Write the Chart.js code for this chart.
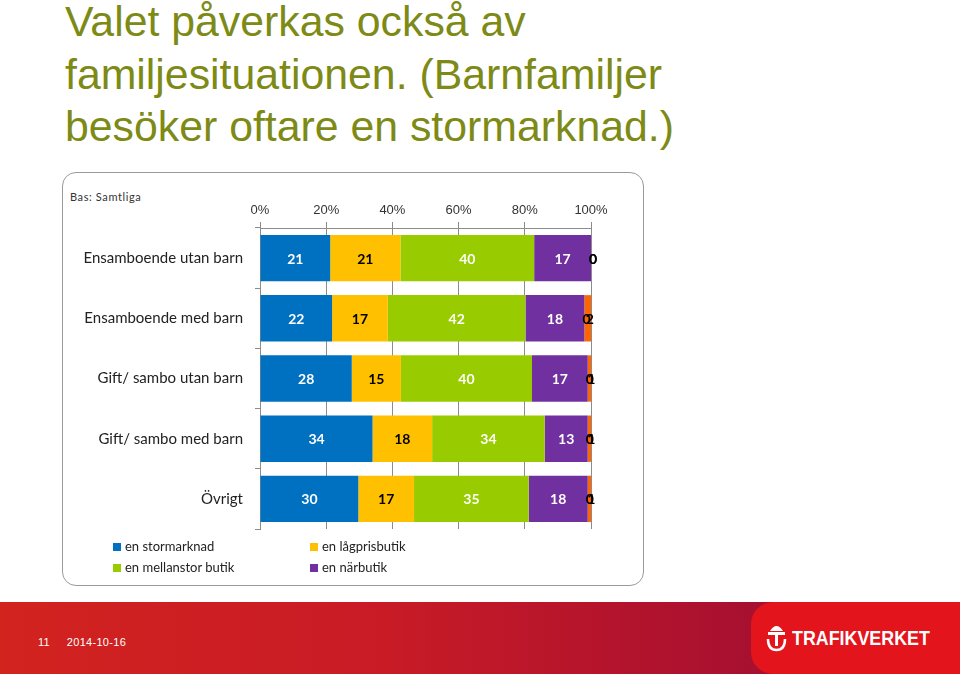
<!DOCTYPE html>
<html lang="sv">
  <head>
    <meta charset="UTF-8" />
    <title>Valet påverkas också av familjesituationen</title>
    <script src="https://cdn.jsdelivr.net/npm/chart.js"></script>
    <style>
        body {
            margin: 0;
            width: 960px;
            height: 674px;
            background: #fff;
            position: relative;
            overflow: hidden;
            font-family: "Liberation Sans", Arial, sans-serif;
        }
        .title {
            position: absolute;
            left: 65px;
            top: -5px;
            font-size: 42.8px;
            line-height: 52.5px;
            color: #7d8a16;
        }
        .chart-box {
            position: absolute;
            left: 62px;
            top: 172px;
            width: 582px;
            height: 414px;
            border: 1px solid #9a9a9a;
            border-radius: 14px;
            box-sizing: border-box;
        }
        .bas {
            position: absolute;
            left: 70px;
            top: 190px;
            font-family: Lato, sans-serif;
            font-size: 11px;
            letter-spacing: 0.6px;
            color: #333;
        }
        #chartWrap {
            position: absolute;
            left: 62px;
            top: 180px;
            width: 583px;
            height: 370px;
        }
        .legend {
            position: absolute;
            left: 113px;
            top: 538px;
            display: grid;
            grid-template-columns: 197px 150px;
            row-gap: 5px;
            font-family: Lato, sans-serif;
            font-size: 13px;
            color: #222;
        }
        .legend span.box {
            display: inline-block;
            width: 8px;
            height: 8px;
            margin-right: 4px;
        }
        .footer {
            position: absolute;
            left: 0;
            top: 602px;
            width: 960px;
            height: 72px;
            background: linear-gradient(90deg, #d2231f 0%, #c81b26 40%, #a81030 78%);
        }
        .footer .logo-bg {
            position: absolute;
            left: 751px;
            top: 0;
            width: 220px;
            height: 72px;
            background: #e3141b;
            border-radius: 22px 0 0 22px;
        }
        .footer .page {
            position: absolute;
            left: 38px;
            top: 34px;
            color: #fff;
            font-size: 11px;
            letter-spacing: 0.3px;
        }
        .footer .brand {
            position: absolute;
            left: 792px;
            top: 24px;
            color: #fff;
            font-size: 21px;
            font-weight: bold;
            transform: scaleX(0.85);
            transform-origin: left top;
            white-space: nowrap;
        }
        .footer .mark {
            position: absolute;
            left: 765px;
            top: 19px;
            width: 23px;
            height: 31px;
        }
    </style>
  </head>

  <body>
    <div class="title">Valet påverkas också av<br>familjesituationen. (Barnfamiljer<br>besöker oftare en stormarknad.)</div>
    <div class="chart-box"></div>
    <div class="bas">Bas: Samtliga</div>
    <div id="chartWrap"><canvas id="chart"></canvas></div>
    <div class="legend" id="legend"></div>

    <div class="footer">
        <div class="logo-bg"></div>
        <div class="page">11&nbsp;&nbsp;&nbsp;&nbsp;&nbsp;2014-10-16</div>
        <svg class="mark" viewBox="0 0 23 31">
            <path d="M5 10 Q11.5 0 18 10 Z" fill="#fff"/>
            <rect x="3" y="11" width="17" height="3" fill="#fff"/>
            <rect x="10" y="14" width="3" height="11" fill="#fff"/>
            <path d="M3 18 Q3 29 11.5 29 Q20 29 20 18" stroke="#fff" stroke-width="2.5" fill="none"/>
        </svg>
        <div class="brand">TRAFIKVERKET</div>
    </div>

    <script>
        const categories = ['Ensamboende utan barn', 'Ensamboende med barn', 'Gift/ sambo utan barn', 'Gift/ sambo med barn', 'Övrigt'];
        const seriesNames = ['en stormarknad', 'en lågprisbutik', 'en mellanstor butik', 'en närbutik', 'annat', 'vet ej'];
        const seriesColors = ['#0070c0', '#ffc000', '#99cc00', '#7030a0', '#ff9900', '#ff6600'];
        const labelColors = ['#fff', '#000', '#fff', '#fff', '#000', '#000'];
        const stormarknad = [21, 22, 28, 34, 30];
        const lagprisbutik = [21, 17, 15, 18, 17];
        const mellanstor = [40, 42, 40, 34, 35];
        const narbutik = [17, 18, 17, 13, 18];
        const annat = [0, 0, 0, 0, 0];
        const vetEj = [0, 2, 1, 1, 1];
        const tickValues = [0, 20, 40, 60, 80, 100];

        const raw = [stormarknad, lagprisbutik, mellanstor, narbutik, annat, vetEj];
        // 100% stacked: each row is scaled to its own total
        const totals = categories.map((c, i) => raw.reduce((s, arr) => s + arr[i], 0));

        const datasets = raw.map((arr, k) => ({
            label: seriesNames[k],
            data: arr.map((v, i) => v / totals[i] * 100),
            rawValues: arr,
            backgroundColor: seriesColors[k],
            labelColor: labelColors[k],
            barPercentage: 0.77,
            categoryPercentage: 1.0
        }));

        // legend (only the first four series are shown)
        const legend = document.getElementById('legend');
        [0, 1, 2, 3].forEach(k => {
            const item = document.createElement('div');
            item.innerHTML = '<span class="box" style="background:' + seriesColors[k] + '"></span>' + seriesNames[k];
            legend.appendChild(item);
        });

        const valueLabels = {
            id: 'valueLabels',
            afterDatasetsDraw(chart) {
                const ctx = chart.ctx;
                ctx.save();
                ctx.font = 'bold 14px Lato, sans-serif';
                ctx.textAlign = 'center';
                ctx.textBaseline = 'middle';
                chart.data.datasets.forEach((ds, k) => {
                    chart.getDatasetMeta(k).data.forEach((bar, i) => {
                        ctx.fillStyle = ds.labelColor;
                        ctx.fillText(String(ds.rawValues[i]), (bar.x + bar.base) / 2 + (k >= 4 ? 2 : 0), bar.y + 1);
                    });
                });
                ctx.restore();
            }
        };

        new Chart(document.getElementById('chart'), {
            type: 'bar',
            data: { labels: categories, datasets: datasets },
            options: {
                indexAxis: 'y',
                responsive: true,
                maintainAspectRatio: false,
                animation: false,
                layout: { padding: { top: 0, right: 54, bottom: 7, left: 0 } },
                plugins: {
                    legend: { display: false },
                    tooltip: { enabled: false }
                },
                scales: {
                    x: {
                        position: 'top',
                        stacked: true,
                        min: 0,
                        max: 100,
                        afterBuildTicks: scale => { scale.ticks = tickValues.map(v => ({ value: v })); },
                        afterFit: scale => { scale.height = 48; },
                        ticks: {
                            callback: v => v + '%',
                            color: '#333',
                            font: { family: 'Liberation Sans', size: 13 },
                            padding: 4
                        },
                        grid: { color: '#8c8c8c', tickLength: 6 },
                        border: { color: '#8c8c8c' }
                    },
                    y: {
                        stacked: true,
                        afterFit: scale => { scale.width = 198; },
                        ticks: {
                            color: '#222',
                            font: { family: 'Lato', size: 15 },
                            padding: 12
                        },
                        grid: { drawOnChartArea: false, offset: true, color: '#8c8c8c', tickLength: 5 },
                        border: { color: '#8c8c8c' }
                    }
                }
            },
            plugins: [valueLabels]
        });
    </script>
  </body>
</html>
